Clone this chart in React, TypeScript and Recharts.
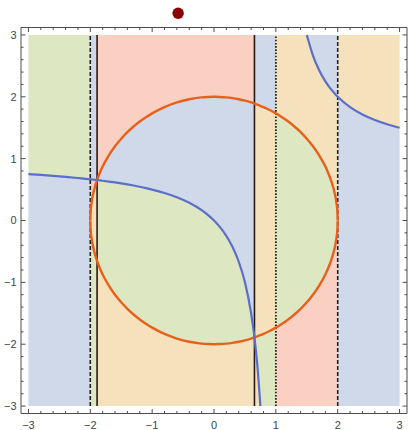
import { ComposedChart, Area, Line, XAxis, YAxis, ReferenceLine, ReferenceDot } from "recharts";

// sample grid (x) with the circle's upper half and the curve y = x/(x-1) read at each x
const xs = [
  -3, -2.8, -2.6, -2.4, -2.2, -2, -1.995, -1.98, -1.95, -1.92, -1.89, -1.85, -1.8, -1.7, -1.6,
  -1.5, -1.4, -1.3, -1.2, -1.1, -1, -0.8, -0.6, -0.4, -0.2, -0.1, 0, 0.1, 0.2, 0.3, 0.4, 0.5,
  0.6, 0.654, 0.7, 0.75, 0.8, 0.85, 0.9, 0.95, 1, 1.1, 1.2, 1.3, 1.4, 1.5, 1.6, 1.7, 1.8, 1.85,
  1.9, 1.95, 1.98, 1.995, 2, 2.2, 2.4, 2.6, 2.8, 3,
];
const circTop = [
  null, null, null, null, null, 0, 0.1413, 0.2821, 0.4444, 0.56, 0.6541, 0.7599, 0.8718, 1.0536, 1.2,
  1.3229, 1.4283, 1.5199, 1.6, 1.6703, 1.7321, 1.833, 1.9079, 1.9596, 1.99, 1.9975, 2, 1.9975, 1.99, 1.9774, 1.9596, 1.9365,
  1.9079, 1.8901, 1.8735, 1.854, 1.833, 1.8104, 1.7861, 1.76, 1.7321, 1.6703, 1.6, 1.5199, 1.4283, 1.3229, 1.2, 1.0536, 0.8718, 0.7599,
  0.6245, 0.4444, 0.2821, 0.1413, 0, null, null, null, null, null,
];
const curveY = [
  0.75, 0.7368, 0.7222, 0.7059, 0.6875, 0.6667, 0.6661, 0.6644, 0.661, 0.6575, 0.654, 0.6491, 0.6429, 0.6296, 0.6154,
  0.6, 0.5833, 0.5652, 0.5455, 0.5238, 0.5, 0.4444, 0.375, 0.2857, 0.1667, 0.0909, 0, -0.1111, -0.25, -0.4286, -0.6667, -1,
  -1.5, -1.8902, -2.3333, -3, -4, -5.6667, -9, -19, null, 11, 6, 4.3333, 3.5, 3, 2.6667, 2.4286, 2.25, 2.1765,
  2.1111, 2.0526, 2.0204, 2.005, 2, 1.8333, 1.7143, 1.625, 1.5556, 1.5,
];

const majorTicks = [-3, -2, -1, 0, 1, 2, 3];
const minorTicks = [
  -2.8, -2.6, -2.4, -2.2, -1.8, -1.6, -1.4, -1.2, -0.8, -0.6, -0.4, -0.2,
  0.2, 0.4, 0.6, 0.8, 1.2, 1.4, 1.6, 1.8, 2.2, 2.4, 2.6, 2.8,
];

const dashedLines = [-2, 2];
const solidLines = [-1.89, 0.654]; // where the curve meets the circle
const dottedLines = [1];
const marker = { x: -0.58, y: 3.35 };

const BLUE = "#cfd9e9";
const WHEAT = "#f6e1bd";
const GREEN = "#dde7c2";
const RED = "#f9d0c2";
const DOMAIN: [number, number] = [-3.12, 3.12];
const FRAME = "#4d4d4d";
const TM = 6; // tick margin, used to find the axis line back from the label anchor
const MAJOR = 4.5;
const MINOR = 2.5;

type Row = { x: number; circ: number | null; curve: number | null };
const rows: Row[] = xs.map((x, i) => ({ x, circ: circTop[i], curve: curveY[i] }));
const allTicks = [...majorTicks, ...minorTicks].sort((a, b) => a - b);

const [XL, XR] = solidLines;
const c = (r: Row) => r.circ ?? 0;
const lowCurve = (r: Row) => (r.curve == null ? -3 : Math.max(r.curve, -3));
const highCurve = (r: Row) => (r.curve == null ? 3 : Math.min(r.curve, 3));

type Cell = { a: number; b: number; fill: string; range: (r: Row) => [number, number] };
const cells: Cell[] = [
  { a: -3, b: -2, fill: GREEN, range: (r) => [r.curve!, 3] },
  { a: -3, b: -2, fill: BLUE, range: (r) => [-3, r.curve!] },
  { a: -2, b: XL, fill: BLUE, range: (r) => [r.curve!, 3] },
  { a: -2, b: XL, fill: RED, range: (r) => [c(r), r.curve!] },
  { a: -2, b: XL, fill: WHEAT, range: (r) => [-c(r), c(r)] },
  { a: -2, b: XL, fill: GREEN, range: (r) => [-3, -c(r)] },
  { a: XL, b: XR, fill: RED, range: (r) => [c(r), 3] },
  { a: XL, b: XR, fill: BLUE, range: (r) => [r.curve!, c(r)] },
  { a: XL, b: XR, fill: GREEN, range: (r) => [-c(r), r.curve!] },
  { a: XL, b: XR, fill: WHEAT, range: (r) => [-3, -c(r)] },
  { a: XR, b: 1, fill: BLUE, range: (r) => [c(r), 3] },
  { a: XR, b: 1, fill: WHEAT, range: (r) => [-c(r), c(r)] },
  { a: XR, b: 1, fill: GREEN, range: (r) => [lowCurve(r), -c(r)] },
  { a: XR, b: 1, fill: WHEAT, range: (r) => [-3, lowCurve(r)] },
  { a: 1, b: 2, fill: BLUE, range: (r) => [highCurve(r), 3] },
  { a: 1, b: 2, fill: WHEAT, range: (r) => [c(r), highCurve(r)] },
  { a: 1, b: 2, fill: GREEN, range: (r) => [-c(r), c(r)] },
  { a: 1, b: 2, fill: RED, range: (r) => [-3, -c(r)] },
  { a: 2, b: 3, fill: WHEAT, range: (r) => [r.curve!, 3] },
  { a: 2, b: 3, fill: BLUE, range: (r) => [-3, r.curve!] },
];

const fmt = (v: number) => (v < 0 ? `\u2212${-v}` : `${v}`);
const isMajor = (v: number) => majorTicks.includes(v);
const labelStyle = { fill: "#444", fontSize: 11 };

// frame ticks point inward; the label sits only on the major ones
function BottomTick(props: any) {
  const { x, y, payload } = props;
  const ay = y - TM;
  const major = isMajor(payload.value);
  return (
    <g>
      <line x1={x} x2={x} y1={ay} y2={ay - (major ? MAJOR : MINOR)} stroke={FRAME} />
      {major && (
        <text x={x} y={ay + 15.5} textAnchor="middle" {...labelStyle}>
          {fmt(payload.value)}
        </text>
      )}
    </g>
  );
}
function TopTick(props: any) {
  const { x, y, payload } = props;
  const ay = y + TM;
  return <line x1={x} x2={x} y1={ay} y2={ay + (isMajor(payload.value) ? MAJOR : MINOR)} stroke={FRAME} />;
}
function LeftTick(props: any) {
  const { x, y, payload } = props;
  const ax = x + TM;
  const major = isMajor(payload.value);
  return (
    <g>
      <line x1={ax} x2={ax + (major ? MAJOR : MINOR)} y1={y} y2={y} stroke={FRAME} />
      {major && (
        <text x={ax - 4.5} y={y + 3.9} textAnchor="end" {...labelStyle}>
          {fmt(payload.value)}
        </text>
      )}
    </g>
  );
}
function RightTick(props: any) {
  const { x, y, payload } = props;
  const ax = x - TM;
  return <line x1={ax} x2={ax - (isMajor(payload.value) ? MAJOR : MINOR)} y1={y} y2={y} stroke={FRAME} />;
}

export default function App() {
  return (
    <div style={{ position: "absolute", left: 0, top: 0 }}>
      <ComposedChart
        width={408}
        height={430}
        data={rows}
        margin={{ top: 26.5, right: 0, bottom: 15.5, left: 20 }}
        style={{ fontFamily: "'Liberation Sans', Arial, sans-serif" }}
      >
        <XAxis dataKey="x" type="number" domain={DOMAIN} allowDataOverflow ticks={allTicks} interval={0}
          height={1} tickSize={0} tickMargin={TM} tick={<BottomTick />} tickLine={false}
          axisLine={{ stroke: FRAME }} />
        <XAxis xAxisId="t" orientation="top" dataKey="x" type="number" domain={DOMAIN} allowDataOverflow ticks={allTicks} interval={0}
          height={1} tickSize={0} tickMargin={TM} tick={<TopTick />} tickLine={false}
          axisLine={{ stroke: FRAME }} />
        <YAxis type="number" domain={DOMAIN} allowDataOverflow ticks={allTicks} interval={0}
          width={1} tickSize={0} tickMargin={TM} tick={<LeftTick />} tickLine={false}
          axisLine={{ stroke: FRAME }} />
        <YAxis yAxisId="r" orientation="right" type="number" domain={DOMAIN} allowDataOverflow ticks={allTicks} interval={0}
          width={1} tickSize={0} tickMargin={TM} tick={<RightTick />} tickLine={false}
          axisLine={{ stroke: FRAME }} />

        {cells.map((cell, i) => (
          <Area
            key={`cell-${i}`}
            dataKey={(r: Row) => (r.x >= cell.a - 1e-9 && r.x <= cell.b + 1e-9 ? cell.range(r) : null)}
            type="linear"
            stroke="none"
            fill={cell.fill}
            fillOpacity={1}
            dot={false}
            activeDot={false}
            isAnimationActive={false}
          />
        ))}

        {dashedLines.map((x) => (
          <ReferenceLine key={`d${x}`} segment={[{ x, y: -3 }, { x, y: 3 }]} stroke="#222" strokeWidth={1.6} strokeDasharray="4 2" />
        ))}
        {solidLines.map((x) => (
          <ReferenceLine key={`s${x}`} segment={[{ x, y: -3 }, { x, y: 3 }]} stroke="#2a1a12" strokeWidth={1.6} />
        ))}
        {dottedLines.map((x) => (
          <ReferenceLine key={`o${x}`} segment={[{ x, y: -3 }, { x, y: 3 }]} stroke="#222" strokeWidth={1.8} strokeDasharray="1.6 1.6" />
        ))}

        <Line dataKey={(r: Row) => r.circ} type="monotone" stroke="#e8601c" strokeWidth={2.4} dot={false} activeDot={false} isAnimationActive={false} />
        <Line dataKey={(r: Row) => (r.circ == null ? null : -r.circ)} type="monotone" stroke="#e8601c" strokeWidth={2.4} dot={false} activeDot={false} isAnimationActive={false} />
        <Line
          dataKey={(r: Row) => (r.curve != null && r.curve >= -3 && r.curve <= 3 ? r.curve : null)}
          type="monotone"
          stroke="#5b6fca"
          strokeWidth={2.2}
          dot={false}
          activeDot={false}
          isAnimationActive={false}
        />

        <ReferenceDot x={marker.x} y={marker.y} r={5.7} fill="#8b0000" stroke="none" ifOverflow="visible" />
      </ComposedChart>
    </div>
  );
}
